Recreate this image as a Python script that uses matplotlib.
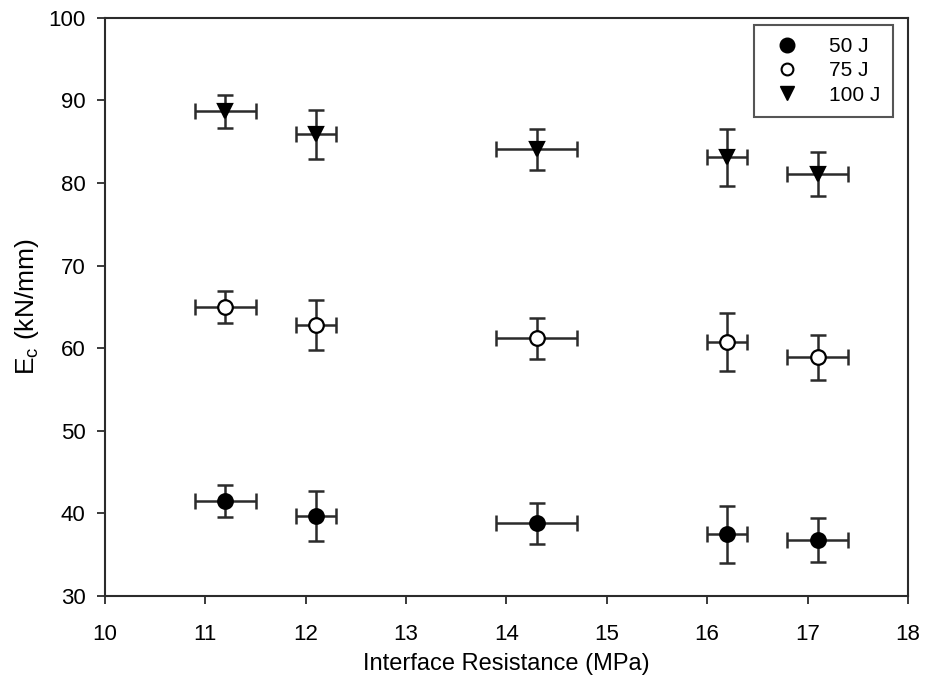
import matplotlib
matplotlib.use("Agg")
import matplotlib.pyplot as plt
from matplotlib.lines import Line2D

plt.rcParams['font.family'] = ['Liberation Sans', 'DejaVu Sans']

# data
resistance = [11.2, 12.1, 14.3, 16.2, 17.1]
x_err = [0.3, 0.2, 0.4, 0.2, 0.3]

ec_50 = [41.5, 39.7, 38.8, 37.5, 36.8]
err_50 = [1.95, 3.0, 2.45, 3.45, 2.7]

ec_75 = [65.0, 62.8, 61.2, 60.8, 58.9]
err_75 = [1.95, 3.0, 2.5, 3.5, 2.7]

ec_100 = [88.7, 85.9, 84.1, 83.1, 81.1]
err_100 = [2.0, 3.0, 2.5, 3.5, 2.7]

labels = ["50 J", "75 J", "100 J"]

ink = "#2b2b2b"

fig = plt.figure(figsize=(9.25, 6.81), dpi=100)
ax = fig.add_axes([0.1135, 0.1248, 0.868, 0.849])

series = [
    (ec_50, err_50, "o", "black", 10.5),
    (ec_75, err_75, "o", "white", 10.5),
    (ec_100, err_100, "v", "black", 10.5),
]
for ys, errs, m, fc, ms in series:
    ax.errorbar(resistance, ys, xerr=x_err, yerr=errs, fmt="none",
                ecolor=ink, elinewidth=1.8, capsize=6, capthick=1.8, zorder=2)
    ax.plot(resistance, ys, linestyle="none", marker=m, markersize=ms,
            markerfacecolor=fc, markeredgecolor="black", markeredgewidth=1.6,
            zorder=3)

ax.set_xlim(10, 18)
ax.set_ylim(30, 100)
ax.set_xticks(range(10, 19))
ax.set_yticks(range(30, 101, 10))
ax.tick_params(direction="out", length=6, width=1.3, color=ink,
               labelsize=16)
ax.tick_params(axis="x", pad=14)
ax.tick_params(axis="y", pad=8)
for s in ax.spines.values():
    s.set_color(ink)
    s.set_linewidth(1.5)

ax.set_xlabel("Interface Resistance (MPa)", fontsize=17, labelpad=6)
ax.set_ylabel("E$_\\mathregular{c}$ (kN/mm)", fontsize=19, labelpad=5)

handles = [
    Line2D([], [], linestyle="none", marker="o", markersize=10.5,
           markerfacecolor="black", markeredgecolor="black"),
    Line2D([], [], linestyle="none", marker="o", markersize=8.5,
           markerfacecolor="white", markeredgecolor="black", markeredgewidth=1.5),
    Line2D([], [], linestyle="none", marker="v", markersize=10.5,
           markerfacecolor="black", markeredgecolor="black"),
]
leg = ax.legend(handles, labels, loc="upper right", fontsize=15,
                bbox_to_anchor=(0.981, 0.988), frameon=True, fancybox=False,
                borderaxespad=0, handletextpad=1.0, labelspacing=0.25,
                borderpad=0.6)
leg.get_frame().set_edgecolor(ink)
leg.get_frame().set_linewidth(1.5)

fig.savefig("out.png", dpi=100)
plt.close(fig)
